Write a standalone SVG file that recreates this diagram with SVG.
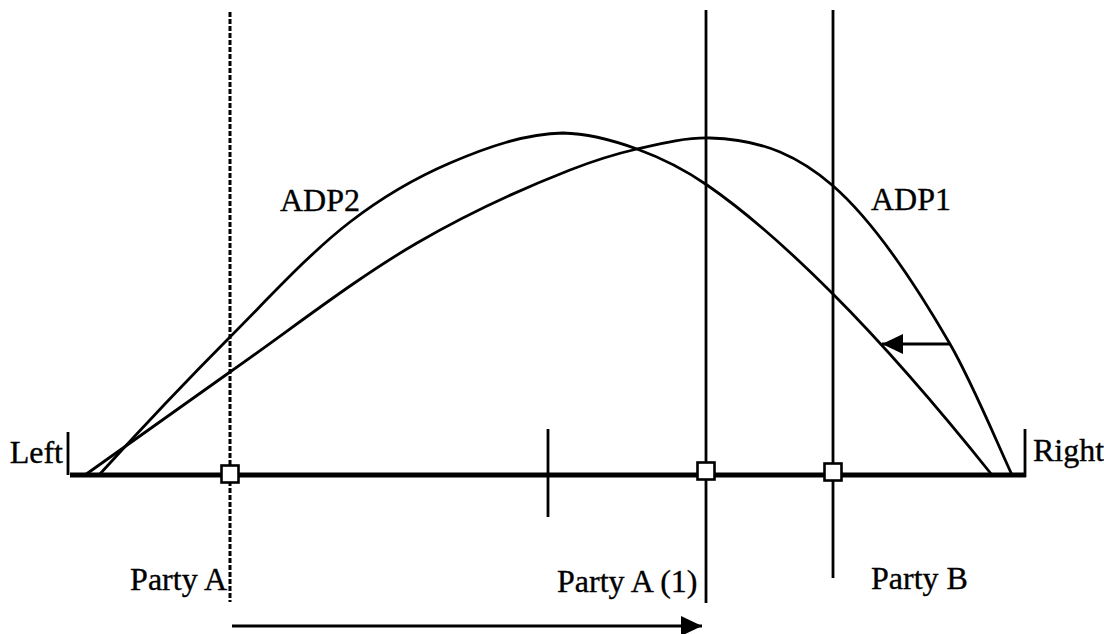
<svg xmlns="http://www.w3.org/2000/svg" width="1104" height="634" viewBox="0 0 1104 634">
<style>
.t{font-family:"Liberation Serif","Times New Roman",serif;font-size:32px;fill:#000;stroke:#000;stroke-width:0.35}
.c{fill:none;stroke:#000;stroke-width:2.8}
.v{stroke:#000;stroke-width:2.8;fill:none}
.sq{fill:#fff;stroke:#000;stroke-width:2.6}
</style>
<defs>
<marker id="ah" markerWidth="22" markerHeight="20" refX="21" refY="10" orient="auto" markerUnits="userSpaceOnUse">
<path d="M0,0 L21,10 L0,20 Z" fill="#000"/>
</marker>
</defs>
<rect width="1104" height="634" fill="#fff"/>
<g id="axis">
<line x1="70" y1="475" x2="1026" y2="475" stroke="#000" stroke-width="5"/>
<line x1="68" y1="432" x2="68" y2="475" class="v"/>
<line x1="1025" y1="429" x2="1025" y2="477" class="v"/>
<line x1="548" y1="429" x2="548" y2="517" class="v"/>
</g>
<g id="party-a-line">
<line x1="230" y1="12" x2="230" y2="602" stroke="#000" stroke-width="3" stroke-dasharray="5,2"/>
</g>
<g id="party-a1-line">
<line x1="706" y1="10" x2="706" y2="603" class="v"/>
</g>
<g id="party-b-line">
<line x1="833" y1="10" x2="833" y2="578" class="v"/>
</g>
<g id="adp2">
<path class="c" d="M99,475 C142.7,427 186.3,380.9 230,337 C270,296.8 310,252.8 350,222 C383.3,196.3 416.7,177.3 450,163 C487.7,146.8 525.3,133.8 563,133 C587.7,133.5 612.3,140 637,149 C660.3,157.5 683.7,168.9 707,185 C748.7,213.8 790.3,251.3 832,293 C885.3,346.3 938.7,408.3 992,475"/>
</g>
<g id="adp1">
<path class="c" d="M85,475 C133.3,440.2 181.7,405.8 230,372 C292.3,328.4 354.7,279.2 417,243 C468,213.4 519,189.9 570,170 C592.3,161.3 614.7,154.1 637,149 C661.3,143.4 685.7,137.4 710,138 C733.3,138.6 756.7,142.2 780,152 C797.3,159.3 814.7,170.1 832,185 C871.3,218.8 910.7,276 950,344 C970.7,379.8 991.3,429.5 1012,475"/>
</g>
<g id="points">
<rect class="sq" x="221.5" y="465.5" width="17" height="17"/>
<rect class="sq" x="697.5" y="462.5" width="17" height="17"/>
<rect class="sq" x="824.5" y="463.5" width="17" height="17"/>
</g>
<g id="connectors">
<line x1="950" y1="344" x2="882" y2="344" stroke="#000" stroke-width="3" marker-end="url(#ah)"/>
<line x1="232" y1="626" x2="702" y2="626" stroke="#000" stroke-width="3" marker-end="url(#ah)"/>
</g>
<g id="labels">
<text class="t" x="63" y="463" text-anchor="end">Left</text>
<text class="t" x="1033" y="461">Right</text>
<text class="t" x="280" y="211">ADP2</text>
<text class="t" x="871" y="210">ADP1</text>
<text class="t" x="227" y="590" text-anchor="end">Party A</text>
<text class="t" x="557" y="592">Party A (1)</text>
<text class="t" x="871" y="589">Party B</text>
</g>
</svg>
